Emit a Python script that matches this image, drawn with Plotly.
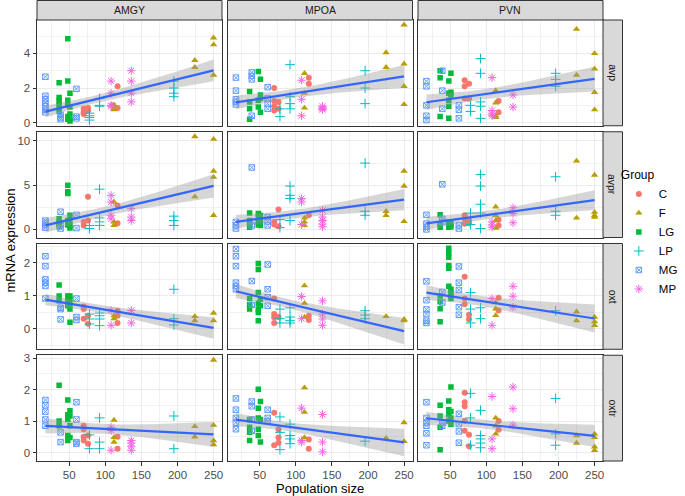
import numpy as np
import plotly.graph_objects as go
from plotly.subplots import make_subplots

# ---------------- data (population size -> list of mRNA expression values) ----------------
GROUPS = ["C", "F", "LG", "LP", "MG", "MP"]
REGIONS = ["AMGY", "MPOA", "PVN"]
GENES = ["avp", "avpr", "oxt", "oxtr"]

amgy_avp = {
    "C": {70: [0.8, 0.6, 0.5], 76: [0.85, 0.7], 111: [1.0], 117: [2.1, 0.85]},
    "F": {112: [1.0, 0.8, 0.75], 224: [3.6, 3.2], 250: [4.9, 4.5, 2.75]},
    "LG": {36: [2.3, 1.45, 1.25, 1.05, 0.85, 0.65], 48: [4.85, 2.4, 1.3, 1.0, 0.35, 0.2], 51: [1.7, 0.9, 0.5, 0.2, 0.1]},
    "LP": {78: [0.55, 0.4, 0.3, 0.15], 92: [1.4, 1.0, 0.95], 195: [2.4, 2.0, 1.7, 1.5]},
    "MG": {17: [2.65, 1.55, 1.35, 1.15, 0.95, 0.75, 0.6], 38: [0.45, 0.3, 0.2], 60: [1.95, 0.35, 0.25]},
    "MP": {108: [2.4, 1.7, 1.0, 0.95], 136: [3.0, 2.4, 1.7, 1.2]},
}
mpoa_avp = {
    "C": {70: [2.0, 1.25, 0.95, 0.7], 76: [1.2, 0.8], 118: [2.6, 2.25]},
    "F": {112: [2.85, 1.7, 0.85], 225: [4.05, 3.2], 250: [5.65, 3.4, 2.1, 1.05]},
    "LG": {36: [1.8, 1.2, 0.8, 0.2], 48: [2.95, 1.3, 0.9], 51: [2.5, 1.6, 1.4, 0.6]},
    "LP": {78: [0.8, 0.35], 92: [3.35, 1.5, 1.1, 0.8], 196: [3.0, 2.0, 1.1]},
    "MG": {17: [2.6, 1.85, 1.35, 1.2, 1.05], 39: [2.9, 2.7, 2.5, 0.4], 61: [2.05, 1.4, 1.1, 0.8]},
    "MP": {108: [2.45, 1.35, 0.4], 137: [0.95, 0.85, 0.8, 0.75]},
}
pvn_avp = {
    "C": {70: [2.45, 2.1, 1.4], 76: [2.25, 1.4], 117: [1.25, 0.6]},
    "F": {113: [1.85, 1.15, 0.4, 0.3], 225: [5.4, 2.75], 250: [4.0, 3.1, 1.75, 0.75]},
    "LG": {36: [3.0, 2.6, 0.35], 48: [2.4, 1.7, 1.3, 0.95, 0.25], 51: [2.85, 1.75, 1.6]},
    "LP": {78: [1.0, 0.65], 92: [3.7, 2.85, 1.2, 0.95, 0.25], 196: [2.85, 2.5, 2.1]},
    "MG": {17: [2.4, 2.1, 1.0, 0.4, 0.15], 39: [3.0, 1.85, 0.8], 62: [1.0, 0.75, 0.25]},
    "MP": {108: [2.6, 0.7, 0.5, 0.4], 137: [1.6, 0.9]},
}
amgy_avpr = {
    "C": {70: [0.85, 0.45], 76: [3.7, 1.0], 117: [2.7, 0.7]},
    "F": {112: [3.1, 0.85, 0.45], 224: [10.5, 3.7], 250: [10.2, 6.6, 5.9, 1.6]},
    "LG": {36: [1.2, 0.9, 0.6, 0.3], 48: [5.0, 4.25, 4.05, 1.0, 0.5], 51: [1.6, 1.0, 0.45, 0.15]},
    "LP": {78: [0.45, 0.1], 92: [4.55, 1.3, 0.85, 0.45], 195: [1.5, 1.0, 0.45]},
    "MG": {17: [1.0, 0.75, 0.5, 0.2], 38: [2.0, 0.45, 0.1], 60: [1.65, 0.15]},
    "MP": {108: [3.85, 3.1, 1.6, 1.2], 136: [2.35, 1.4, 1.0]},
}
mpoa_avpr = {
    "C": {70: [0.85, 0.55], 76: [2.25, 0.35], 118: [1.6]},
    "F": {112: [1.3, 0.85, 0.45], 225: [2.05, 1.6], 250: [6.6, 4.9, 0.9]},
    "LG": {36: [1.85, 1.0, 0.6, 0.25], 48: [1.8, 1.4, 0.85, 0.5], 51: [1.6, 1.0, 0.45]},
    "LP": {78: [1.1, 0.2], 92: [4.9, 3.85, 3.5, 1.0], 196: [7.5, 2.05, 1.6]},
    "MG": {17: [0.85, 0.45, 0.1], 39: [7.0, 0.45], 61: [1.4, 0.9, 0.45]},
    "MP": {108: [3.5, 3.1, 0.55], 137: [2.15, 1.4, 1.0, 0.6, 0.3]},
}
pvn_avpr = {
    "C": {70: [1.6, 1.2, 0.65], 76: [1.0, 0.7], 117: [1.1, 0.45]},
    "F": {113: [2.55, 1.6, 1.0, 0.15], 225: [7.75, 1.3], 250: [6.15, 1.95, 1.6, 1.4]},
    "LG": {36: [1.65, 0.65, 0.25], 48: [0.85, 0.45, 0.25], 51: [0.65, 0.3]},
    "LP": {78: [1.85, 0.55], 92: [6.2, 4.9, 2.85, 1.85, 0.1], 196: [5.95, 2.05, 1.6]},
    "MG": {17: [1.65, 0.65, 0.3, 0.0], 39: [5.1, 1.2, 0.85], 62: [0.45, 0.1]},
    "MP": {108: [0.85, 0.5, 0.25], 137: [2.45, 1.8, 0.75]},
}
amgy_oxt = {
    "C": {70: [0.68, 0.6, 0.31], 76: [0.4, 0.16], 117: [0.55, 0.4, 0.18]},
    "F": {112: [0.4, 0.31], 224: [0.38, 0.25], 250: [0.48, 0.25]},
    "LG": {36: [1.33, 1.0, 0.85], 48: [1.0, 0.85, 0.7], 51: [1.0, 0.9, 0.75, 0.6, 0.2]},
    "LP": {78: [0.45, 0.3, 0.15], 92: [0.48, 0.4, 0.3, 0.1], 195: [1.2, 0.31, 0.12]},
    "MG": {17: [2.2, 1.9, 1.5, 1.4, 1.3, 0.92], 38: [0.64, 0.6, 0.29], 60: [0.92, 0.36, 0.27]},
    "MP": {108: [0.56, 0.11], 136: [0.56, 0.18]},
}
mpoa_oxt = {
    "C": {70: [0.92, 0.45, 0.35, 0.18], 76: [0.36], 118: [0.4, 0.27]},
    "F": {112: [1.31, 0.78, 0.36], 225: [0.38], 250: [0.29, 0.25]},
    "LG": {36: [0.92, 0.73, 0.6], 48: [1.98, 1.8, 1.1, 0.78, 0.6, 0.5, 0.25], 51: [0.9, 0.7]},
    "LP": {78: [0.6, 0.31, 0.18], 92: [0.64, 0.36, 0.25, 0.18], 196: [0.55, 0.42, 0.31]},
    "MG": {17: [2.42, 2.2, 1.9, 1.4, 1.3, 1.2], 39: [1.45, 0.73], 61: [1.95, 1.2, 0.96, 0.7]},
    "MP": {108: [0.98, 0.31], 137: [0.85, 0.45, 0.3, 0.11]},
}
pvn_oxt = {
    "C": {70: [1.58, 0.92, 0.75], 76: [0.43, 0.29], 117: [0.94, 0.56]},
    "F": {113: [0.8, 0.61, 0.41], 225: [0.52, 0.25], 250: [0.36, 0.22, 0.11]},
    "LG": {36: [1.0, 0.82, 0.61, 0.22], 48: [2.44, 2.3, 2.17, 1.92, 1.84, 1.29], 51: [1.2, 1.1, 1.0, 0.92]},
    "LP": {78: [1.1, 0.6, 0.18], 92: [0.64, 0.31], 196: [0.55]},
    "MG": {17: [1.44, 0.87, 0.59, 0.45, 0.25, 0.18], 39: [1.12, 0.8], 62: [1.89, 1.4, 1.18, 0.66, 0.43]},
    "MP": {108: [0.92, 0.11], 137: [1.29, 0.99, 0.66]},
}
amgy_oxtr = {
    "C": {70: [0.85, 0.74, 0.5, 0.38], 76: [0.54, 0.28], 117: [0.5, 0.12]},
    "F": {112: [1.03, 0.48, 0.33], 224: [0.83, 0.5], 250: [2.94, 0.87, 0.38, 0.25]},
    "LG": {36: [2.14, 1.0, 0.85], 48: [1.67, 1.2, 1.05, 0.54, 0.38], 51: [1.33, 1.16, 0.85, 0.48]},
    "LP": {78: [0.56, 0.12], 92: [1.1, 0.33, 0.12], 195: [1.16, 0.12]},
    "MG": {17: [1.67, 1.5, 1.3, 1.05, 0.85], 38: [0.64, 0.33], 60: [1.6, 1.05, 0.33, 0.28]},
    "MP": {108: [0.8, 0.7, 0.07], 136: [0.38, 0.3, 0.2, 0.07]},
}
mpoa_oxtr = {
    "C": {70: [1.26, 0.23], 76: [0.74, 0.48, 0.31], 118: [0.41, 0.12]},
    "F": {112: [2.06, 1.28, 0.48], 225: [0.45], 250: [0.95, 0.35]},
    "LG": {36: [1.05, 0.8, 0.64, 0.38], 48: [2.01, 1.41, 1.1, 0.74, 0.54], 51: [1.62, 1.05, 0.33]},
    "LP": {78: [1.13, 0.64, 0.09], 92: [0.9, 0.54, 0.43, 0.28], 196: [0.36]},
    "MG": {17: [1.72, 1.36, 1.1, 0.95, 0.74], 39: [1.62, 1.47, 1.05, 0.69], 61: [1.36, 1.1, 1.0]},
    "MP": {108: [1.41, 0.38, 0.33], 137: [1.21, 0.33, 0.02]},
}
pvn_oxtr = {
    "C": {70: [1.9, 1.6, 1.47, 1.0, 0.69], 76: [0.56, 0.2], 117: [1.0, 0.72]},
    "F": {113: [1.1, 0.85, 0.59], 225: [0.54, 0.3], 250: [0.59, 0.48, 0.18, 0.07]},
    "LG": {36: [1.5, 1.16, 0.8, 0.09], 48: [1.64, 1.36, 1.2, 1.0], 51: [2.08, 1.3, 1.1, 0.9]},
    "LP": {78: [1.88, 1.1, 0.23], 92: [1.34, 0.54, 0.43, 0.3, 0.15], 196: [1.72, 0.59, 0.23]},
    "MG": {17: [1.6, 1.1, 0.95, 0.85, 0.61, 0.23], 39: [0.95, 0.85], 62: [1.23, 0.9, 0.67, 0.31]},
    "MP": {108: [1.78, 0.43, 0.12], 137: [2.08, 1.39, 0.87]},
}

PANELS = {
    ("avp", "AMGY"): amgy_avp, ("avp", "MPOA"): mpoa_avp, ("avp", "PVN"): pvn_avp,
    ("avpr", "AMGY"): amgy_avpr, ("avpr", "MPOA"): mpoa_avpr, ("avpr", "PVN"): pvn_avpr,
    ("oxt", "AMGY"): amgy_oxt, ("oxt", "MPOA"): mpoa_oxt, ("oxt", "PVN"): pvn_oxt,
    ("oxtr", "AMGY"): amgy_oxtr, ("oxtr", "MPOA"): mpoa_oxtr, ("oxtr", "PVN"): pvn_oxtr,
}

X_TICKS = [50, 100, 150, 200, 250]
Y_TICKS = {"avp": [0, 2, 4], "avpr": [0, 5, 10], "oxt": [0, 1, 2], "oxtr": [0, 1, 2, 3]}

# ---------------- styles ----------------
COLORS = {"C": "#F8766D", "F": "#B79F00", "LG": "#00BA38", "LP": "#00BFC4", "MG": "#619CFF", "MP": "#F564E3"}
SYMBOLS = {"C": "circle", "F": "triangle-up", "LG": "square", "LP": "cross-thin-open",
           "MG": "square-x-open", "MP": "asterisk-open"}
SIZES = {"C": 6, "F": 6.5, "LG": 5.5, "LP": 7, "MG": 5.5, "MP": 7}
FONT = "Liberation Sans, Arial, sans-serif"


def t975(df):
    z = 1.959964
    return (z + (z**3 + z) / (4 * df) + (5 * z**5 + 16 * z**3 + 3 * z) / (96 * df**2)
            + (3 * z**7 + 19 * z**5 + 17 * z**3 - 15 * z) / (384 * df**3))


def flatten(panel, g):
    xs, ys = [], []
    for xv, yl in panel[g].items():
        xs += [xv] * len(yl)
        ys += list(yl)
    return xs, ys


def lm_fit(panel):
    xs, ys = [], []
    for g in GROUPS:
        a, b = flatten(panel, g)
        xs += a
        ys += b
    x = np.array(xs, float)
    y = np.array(ys, float)
    n = len(x)
    slope, icpt = np.polyfit(x, y, 1)
    resid = y - (icpt + slope * x)
    s = np.sqrt(np.sum(resid**2) / (n - 2))
    xbar = x.mean()
    sxx = np.sum((x - xbar) ** 2)
    grid = np.linspace(x.min(), x.max(), 80)
    fit = icpt + slope * grid
    se = s * np.sqrt(1.0 / n + (grid - xbar) ** 2 / sxx)
    t = t975(n - 2)
    return x, y, grid, fit, fit - t * se, fit + t * se


fig = make_subplots(rows=4, cols=3, horizontal_spacing=5.5 / 566, vertical_spacing=6 / 441)

all_x = []
row_ext = {g: [np.inf, -np.inf] for g in GENES}
fits = {}
for gene in GENES:
    for reg in REGIONS:
        x, y, grid, fit, lo, hi = lm_fit(PANELS[(gene, reg)])
        fits[(gene, reg)] = (grid, fit, lo, hi)
        all_x += list(x)
        row_ext[gene][0] = min(row_ext[gene][0], y.min(), lo.min())
        row_ext[gene][1] = max(row_ext[gene][1], y.max(), hi.max())

xmin, xmax = min(all_x), max(all_x)
xr = [xmin - 0.05 * (xmax - xmin), xmax + 0.05 * (xmax - xmin)]

for r, gene in enumerate(GENES):
    for c, reg in enumerate(REGIONS):
        panel = PANELS[(gene, reg)]
        for g in GROUPS:
            xs, ys = flatten(panel, g)
            open_sym = SYMBOLS[g].endswith("open")
            fig.add_trace(go.Scatter(
                x=xs, y=ys, mode="markers", name=g, legendgroup=g,
                showlegend=(r == 0 and c == 0),
                marker=dict(symbol=SYMBOLS[g], size=SIZES[g], color=COLORS[g],
                            line=dict(width=1 if open_sym else 0, color=COLORS[g])),
                hoverinfo="skip"), row=r + 1, col=c + 1)
        grid, fit, lo, hi = fits[(gene, reg)]
        fig.add_trace(go.Scatter(
            x=list(grid) + list(grid[::-1]), y=list(hi) + list(lo[::-1]),
            fill="toself", fillcolor="rgba(153,153,153,0.4)", line=dict(width=0),
            mode="lines", showlegend=False, hoverinfo="skip"), row=r + 1, col=c + 1)
        fig.add_trace(go.Scatter(
            x=grid, y=fit, mode="lines", line=dict(color="#3366FF", width=2.2),
            showlegend=False, hoverinfo="skip"), row=r + 1, col=c + 1)

GRID = "#EBEBEB"
BORDER = "#333333"
for r, gene in enumerate(GENES):
    lo, hi = row_ext[gene]
    span = hi - lo
    yr = [lo - 0.05 * span, hi + 0.05 * span]
    ticks = Y_TICKS[gene]
    step = ticks[1] - ticks[0]
    minor = [t + step / 2 for t in [ticks[0] - step] + ticks if yr[0] <= t + step / 2 <= yr[1]]
    for c in range(3):
        fig.update_yaxes(
            row=r + 1, col=c + 1, range=yr, tickvals=ticks,
            showticklabels=(c == 0), ticks="outside" if c == 0 else "",
            ticklen=3.5, tickcolor=BORDER, tickwidth=1,
            tickfont=dict(size=11.5, color="#4D4D4D", family=FONT),
            showgrid=True, gridcolor=GRID, gridwidth=1,
            minor=dict(tickvals=minor, showgrid=True, gridcolor="#F1F1F1", gridwidth=0.6, ticks=""),
            zeroline=False, showline=True, mirror=True, linecolor=BORDER, linewidth=1)
for r in range(4):
    for c in range(3):
        fig.update_xaxes(
            row=r + 1, col=c + 1, range=xr, tickvals=X_TICKS,
            showticklabels=(r == 3), ticks="outside" if r == 3 else "",
            ticklen=3.5, tickcolor=BORDER, tickwidth=1,
            tickfont=dict(size=11.5, color="#4D4D4D", family=FONT),
            showgrid=True, gridcolor=GRID, gridwidth=1,
            minor=dict(tickvals=[25, 75, 125, 175, 225], showgrid=True, gridcolor="#F1F1F1",
                       gridwidth=0.6, ticks=""),
            zeroline=False, showline=True, mirror=True, linecolor=BORDER, linewidth=1)

# strips
shapes, annots = [], []
STRIP_H = 19.5 / 441
STRIP_W = 19.5 / 566
for c, reg in enumerate(REGIONS):
    xa = fig.layout["xaxis" if c == 0 else "xaxis%d" % (c + 1)]
    d0, d1 = xa.domain
    shapes.append(dict(type="rect", xref="paper", yref="paper", x0=d0, x1=d1, y0=1.0, y1=1 + STRIP_H,
                       fillcolor="#D9D9D9", line=dict(color=BORDER, width=1), layer="above"))
    annots.append(dict(text=reg, xref="paper", yref="paper", x=(d0 + d1) / 2, y=1 + STRIP_H / 2,
                       showarrow=False, xanchor="center", yanchor="middle",
                       font=dict(size=10.5, color="#1A1A1A", family=FONT)))
for r, gene in enumerate(GENES):
    ya = fig.layout["yaxis" if r == 0 else "yaxis%d" % (3 * r + 1)]
    d0, d1 = ya.domain
    shapes.append(dict(type="rect", xref="paper", yref="paper", x0=1.0, x1=1 + STRIP_W, y0=d0, y1=d1,
                       fillcolor="#D9D9D9", line=dict(color=BORDER, width=1), layer="above"))
    annots.append(dict(text=gene, xref="paper", yref="paper", x=1 + STRIP_W / 2, y=(d0 + d1) / 2,
                       showarrow=False, textangle=90, xanchor="center", yanchor="middle",
                       font=dict(size=10.5, color="#1A1A1A", family=FONT)))

annots.append(dict(text="Population size", xref="paper", yref="paper", x=0.5, y=-27.5 / 441,
                   showarrow=False, xanchor="center", yanchor="middle",
                   font=dict(size=13, color="#000000", family=FONT)))
annots.append(dict(text="mRNA expression", xref="paper", yref="paper", x=-27 / 566, y=0.5,
                   showarrow=False, textangle=-90, xanchor="center", yanchor="middle",
                   font=dict(size=13, color="#000000", family=FONT)))

fig.update_layout(
    width=685, height=496,
    margin=dict(l=37, r=82, t=20, b=35, autoexpand=False),
    paper_bgcolor="white", plot_bgcolor="white",
    shapes=shapes, annotations=annots,
    font=dict(family=FONT),
    legend=dict(title=dict(text="Group", font=dict(size=12, color="#000000")),
                x=1.028, xanchor="left", y=0.515, yanchor="middle",
                font=dict(size=11.5, color="#000000"), itemsizing="trace",
                tracegroupgap=0, bgcolor="rgba(0,0,0,0)"),
)

fig.write_html("out.html", config={"displayModeBar": False},
               post_script="document.body.style.margin='0';")
